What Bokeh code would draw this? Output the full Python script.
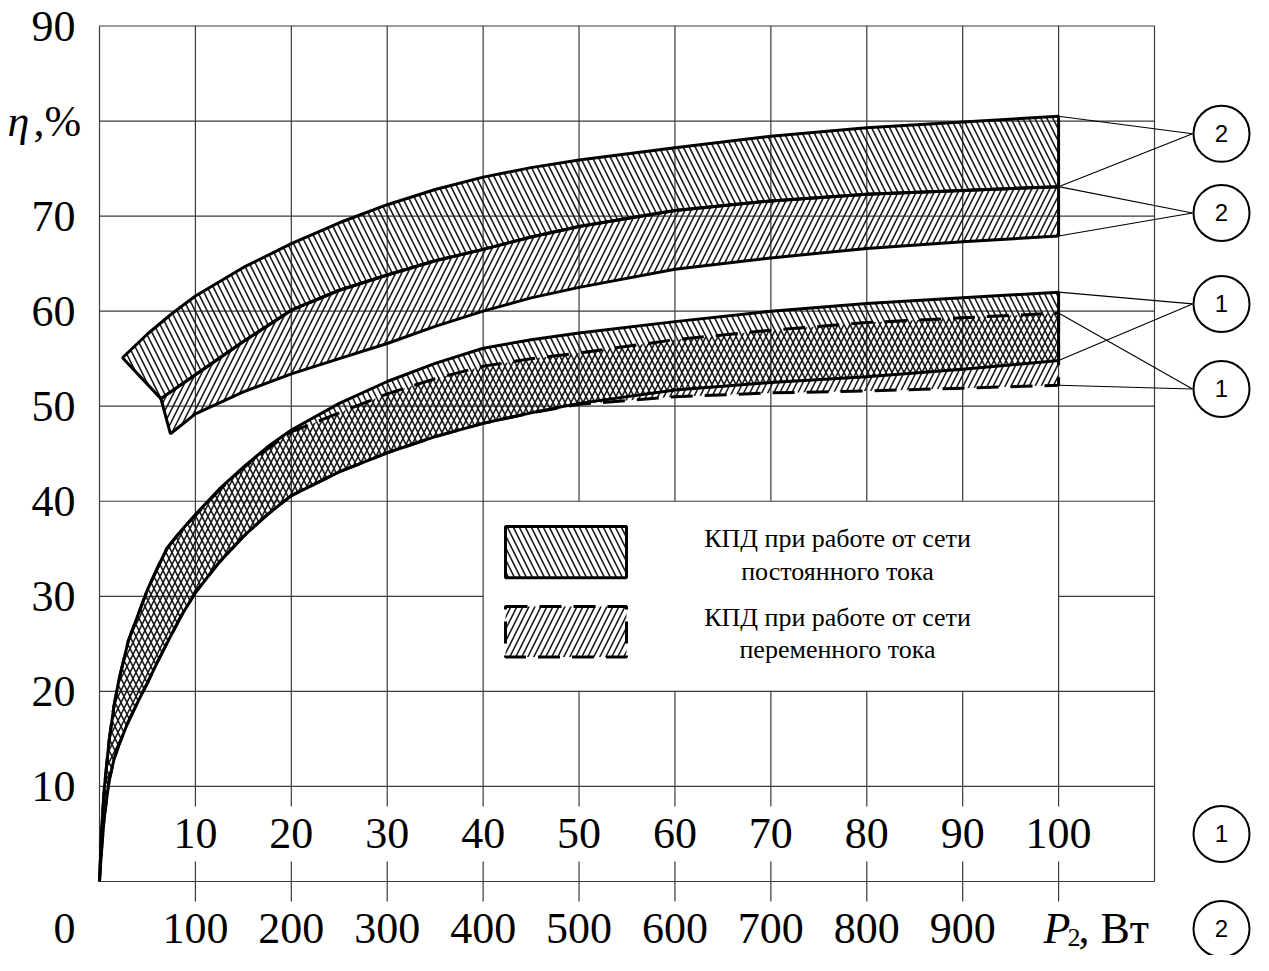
from bokeh.plotting import figure
from bokeh.models import Range1d
from bokeh.core.properties import value
from bokeh.embed import file_html
from bokeh.resources import INLINE

# ---------------- data ----------------
# Device 1: P2 axis 0..100 W (upper row of x labels)
P1_W = [0, 0.25, 0.5, 1, 1.5, 2, 3, 4, 5, 6, 7, 8.5, 10, 12.5, 15, 17.5, 20,
        25, 30, 35, 40, 45, 50, 60, 70, 80, 90, 100]
DC1_UPPER = [0, 6.0, 9.8, 14.8, 18.4, 21.1, 25.3, 28.0, 30.7, 32.9, 35.0, 36.9, 38.6, 41.3, 43.6, 45.7, 47.5,
             50.3, 52.6, 54.5, 56.1, 57.0, 57.7, 58.9, 60.0, 60.8, 61.4, 62.0]
DC1_LOWER = [0, 3.8, 6.8, 10.6, 12.8, 14.3, 16.8, 18.9, 20.9, 23.0, 25.0, 27.9, 30.4, 33.6, 36.3, 38.6, 40.6,
             43.1, 45.1, 46.8, 48.2, 49.3, 50.3, 51.7, 52.5, 53.1, 53.9, 54.8]
AC1_UPPER = [0, 6.0, 9.8, 14.8, 18.4, 21.1, 25.3, 28.0, 30.7, 32.9, 35.0, 36.9, 38.5, 41.2, 43.5, 45.5, 47.3,
             49.3, 51.3, 52.9, 54.2, 55.0, 55.6, 57.0, 58.0, 58.8, 59.3, 59.8]
AC1_LOWER = [0, 3.8, 6.8, 10.6, 12.8, 14.3, 16.8, 18.9, 20.9, 23.0, 25.0, 27.9, 30.4, 33.6, 36.3, 38.6, 40.6,
             43.1, 45.1, 46.8, 48.2, 49.3, 50.2, 51.0, 51.4, 51.6, 51.9, 52.2]

# Device 2: P2 axis 0..1000 W (lower row of x labels)
W_DC2 = [24, 50, 75, 100, 150, 200, 250, 300, 350, 400, 450, 500, 600, 700, 800, 900, 1000]
DC2_UPPER = [55.1, 57.6, 59.7, 61.6, 64.6, 67.1, 69.3, 71.2, 72.8, 74.1, 75.1, 75.9, 77.2, 78.4, 79.3, 79.9, 80.5]
W_MID2 = [64, 100, 150, 200, 250, 300, 350, 400, 450, 500, 600, 700, 800, 900, 1000]
MID2 = [50.8, 53.3, 56.8, 60.1, 62.2, 63.8, 65.3, 66.5, 67.8, 68.9, 70.6, 71.6, 72.3, 72.7, 73.1]  # DC-2 lower = AC-2 upper
W_AC2 = [74, 100, 150, 200, 250, 300, 350, 400, 450, 500, 600, 700, 800, 900, 1000]
AC2_LOWER = [47.1, 49.2, 51.5, 53.4, 55.0, 56.6, 58.4, 60.0, 61.4, 62.5, 64.4, 65.6, 66.6, 67.3, 67.9]

# axes / labels
Y_TICKS = [10, 20, 30, 40, 50, 60, 70, 80, 90]
Y_LABELS = ["10", "20", "30", "40", "50", "60", "70", "", "90"]   # 80 carries "η,%"
X1_TICKS = [10, 20, 30, 40, 50, 60, 70, 80, 90, 100]
X1_LABELS = ["10", "20", "30", "40", "50", "60", "70", "80", "90", "100"]
X2_TICKS = [100, 200, 300, 400, 500, 600, 700, 800, 900]
X2_LABELS = ["100", "200", "300", "400", "500", "600", "700", "800", "900"]
X_MAX = 110
Y_MAX = 90
LEGEND_CELL_X = (40, 100)
LEGEND_CELL_Y = (20, 40)
LEGEND_TEXTS = ["КПД при работе от сети", "постоянного тока",
                "КПД при работе от сети", "переменного тока"]
CALLOUTS = ["2", "2", "1", "1", "1", "2"]

# ---------------- geometry ----------------
W, H = 1253, 955


def fx(ref):            # reference-picture px -> canvas px
    return ref - 6


def fy(ref):
    return 25.5 + (ref - 30) * 0.989


PX_X = (fx(1160) - fx(105)) / X_MAX
PX_Y = (fy(895) - fy(30)) / Y_MAX
X_START = -fx(105) / PX_X
X_END = X_START + W / PX_X
Y_END = Y_MAX + fy(30) / PX_Y
Y_START = Y_END - H / PX_Y


def dx(ref_px):
    return X_START + fx(ref_px) / PX_X


def dy(ref_py):
    return Y_END - fy(ref_py) / PX_Y


SERIF = value("Liberation Serif")
SANS = value("Liberation Sans")
GRID = "#3a3a3a"
HATCH = dict(fill_alpha=0, hatch_color="#1a1a1a", hatch_weight=1.6, hatch_scale=12)
DASH = "22 12"

p = figure(width=W, height=H, x_range=Range1d(X_START, X_END), y_range=Range1d(Y_START, Y_END),
           output_backend="svg", toolbar_location=None, x_axis_type=None, y_axis_type=None,
           min_border=0, outline_line_color=None, background_fill_color="white",
           border_fill_color="white")
p.extra_x_ranges = {"w2": Range1d(X_START * 10, X_END * 10)}

# ---------------- grid ----------------
tick = 20 / PX_Y
x0s, y0s, x1s, y1s = [], [], [], []
for v in [0] + Y_TICKS:
    if LEGEND_CELL_Y[0] < v < LEGEND_CELL_Y[1]:
        x0s += [0, LEGEND_CELL_X[1]]; x1s += [LEGEND_CELL_X[0], X_MAX]; y0s += [v, v]; y1s += [v, v]
    else:
        x0s.append(0); x1s.append(X_MAX); y0s.append(v); y1s.append(v)
for v in [0, X_MAX]:
    x0s.append(v); x1s.append(v); y0s.append(0); y1s.append(Y_MAX)
for v in X1_TICKS:
    if LEGEND_CELL_X[0] < v < LEGEND_CELL_X[1]:
        x0s += [v, v]; x1s += [v, v]
        y0s += [Y_TICKS[0], LEGEND_CELL_Y[1]]; y1s += [LEGEND_CELL_Y[0], Y_MAX]
    else:
        x0s.append(v); x1s.append(v); y0s.append(Y_TICKS[0]); y1s.append(Y_MAX)
    for a, b in [(Y_TICKS[0], Y_TICKS[0] - tick), (0, tick), (0, -tick)]:
        x0s.append(v); x1s.append(v); y0s.append(a); y1s.append(b)
p.segment(x0=x0s, y0=y0s, x1=x1s, y1=y1s, line_color=GRID, line_width=1.2)

# ---------------- bands ----------------
ac1_x = P1_W + P1_W[::-1]
ac1_y = AC1_UPPER + AC1_LOWER[::-1]
dc1_x = P1_W + P1_W[::-1]
dc1_y = DC1_UPPER + DC1_LOWER[::-1]
dc2_x = W_DC2 + W_MID2[::-1]
dc2_y = DC2_UPPER + MID2[::-1]
ac2_x = W_MID2 + W_AC2[::-1]
ac2_y = MID2 + AC2_LOWER[::-1]

p.patch(ac1_x, ac1_y, hatch_pattern="/", line_color=None, **HATCH)
p.patch(dc1_x, dc1_y, hatch_pattern="\\", line_color=None, **HATCH)
p.patch(dc2_x, dc2_y, hatch_pattern="\\", line_color=None, x_range_name="w2", **HATCH)
p.patch(ac2_x, ac2_y, hatch_pattern="/", line_color=None, x_range_name="w2", **HATCH)

p.patch(ac1_x, ac1_y, fill_alpha=0, line_color="black", line_width=3, line_dash=DASH)
p.patch(dc1_x, dc1_y, fill_alpha=0, line_color="black", line_width=3)
p.patch(dc2_x, dc2_y, fill_alpha=0, line_color="black", line_width=3, x_range_name="w2")
p.patch(ac2_x, ac2_y, fill_alpha=0, line_color="black", line_width=3, x_range_name="w2")

# ---------------- legend ----------------
sw_l, sw_r = dx(511), dx(632)
p.quad(left=[sw_l], right=[sw_r], bottom=[dy(588)], top=[dy(536)], hatch_pattern="\\",
       line_color="black", line_width=3, **HATCH)
p.quad(left=[sw_l], right=[sw_r], bottom=[dy(668)], top=[dy(617)], hatch_pattern="/",
       line_color="black", line_width=3, line_dash=DASH, **HATCH)
p.text(x=[dx(843)] * 4, y=[dy(548), dy(582), dy(628), dy(660)], text=LEGEND_TEXTS,
       text_font=SERIF, text_font_size="26px", text_align="center", text_baseline="middle",
       text_color="black")

# ---------------- axis labels ----------------
p.text(x=[dx(81)] * len(Y_TICKS), y=Y_TICKS, text=Y_LABELS, text_font=SERIF,
       text_font_size="44px", text_align="right", text_baseline="middle", text_color="black")
p.text(x=[dx(13)], y=[80], text=["η"], text_font=SERIF, text_font_style="italic",
       text_font_size="44px", text_align="left", text_baseline="middle", text_color="black")
p.text(x=[dx(39)], y=[80], text=[",%"], text_font=SERIF,
       text_font_size="44px", text_align="left", text_baseline="middle", text_color="black")

row1_y = Y_TICKS[0] / 2
row2_y = dy(943)
p.text(x=X1_TICKS, y=[row1_y] * len(X1_TICKS), text=X1_LABELS, text_font=SERIF,
       text_font_size="44px", text_align="center", text_baseline="middle", text_color="black")
p.text(x=X2_TICKS, y=[row2_y] * len(X2_TICKS), text=X2_LABELS, text_font=SERIF,
       text_font_size="44px", text_align="center", text_baseline="middle", text_color="black",
       x_range_name="w2")
p.text(x=[dx(81)], y=[row2_y], text=["0"], text_font=SERIF, text_font_size="44px",
       text_align="right", text_baseline="middle", text_color="black")
p.text(x=[dx(1049)], y=[row2_y], text=["P"], text_font=SERIF, text_font_style="italic",
       text_font_size="44px", text_align="left", text_baseline="middle", text_color="black")
p.text(x=[dx(1073)], y=[dy(952)], text=["2"], text_font=SERIF,
       text_font_size="26px", text_align="left", text_baseline="middle", text_color="black")
p.text(x=[dx(1084)], y=[row2_y], text=[", Вт"], text_font=SERIF,
       text_font_size="44px", text_align="left", text_baseline="middle", text_color="black")

# ---------------- callouts ----------------
cx = dx(1227)
cys = [dy(139), dy(219), dy(311), dy(397), row1_y, row2_y]
r = 29 / PX_X
ends = [(DC2_UPPER[-1], MID2[-1]), (MID2[-1], AC2_LOWER[-1]),
        (DC1_UPPER[-1], DC1_LOWER[-1]), (AC1_UPPER[-1], AC1_LOWER[-1])]
lx0, ly0, lx1, ly1 = [], [], [], []
for cy, pair in zip(cys[:4], ends):
    for e in pair:
        lx0.append(P1_W[-1]); ly0.append(e); lx1.append(cx - r); ly1.append(cy)
p.segment(x0=lx0, y0=ly0, x1=lx1, y1=ly1, line_color="black", line_width=1.1)
p.scatter(x=[cx] * 6, y=cys, marker="circle", size=56, fill_color="white",
          line_color="black", line_width=2)
p.text(x=[cx] * 6, y=cys, text=CALLOUTS, text_font=SANS, text_font_size="24px",
       text_align="center", text_baseline="middle", text_color="black")

open("out.html", "w").write(file_html(p, INLINE))
